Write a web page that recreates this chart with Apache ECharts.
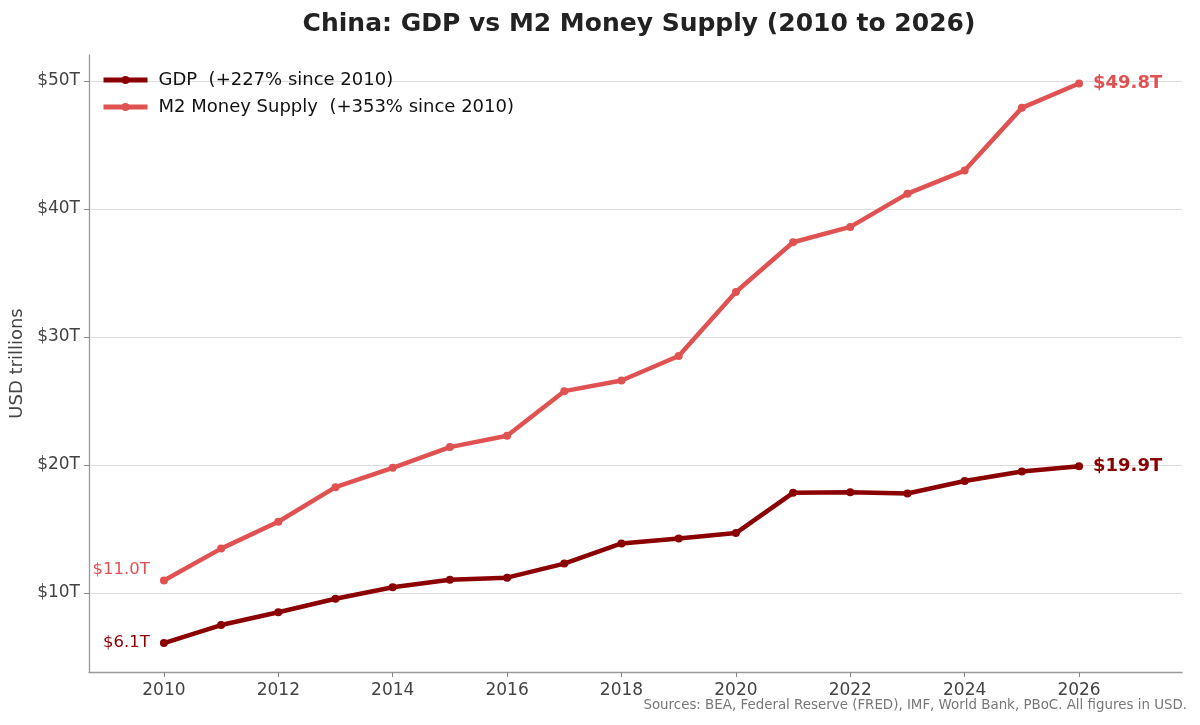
<!DOCTYPE html>
<html>
<head>
<meta charset="utf-8">
<script src="https://cdn.jsdelivr.net/npm/echarts@6/dist/echarts.min.js"></script>
<style>
  html, body { margin: 0; padding: 0; background: #fff; }
  #chart { width: 1200px; height: 725px; }
</style>
</head>
<body>
<div id="chart"></div>
<script>
// years and values (USD trillions)
var years = [2010, 2011, 2012, 2013, 2014, 2015, 2016, 2017, 2018, 2019, 2020, 2021, 2022, 2023, 2024, 2025, 2026];
var gdp = [6.09, 7.5, 8.5, 9.55, 10.45, 11.03, 11.2, 12.3, 13.87, 14.26, 14.68, 17.83, 17.88, 17.78, 18.75, 19.5, 19.9];
var m2 = [10.98, 13.47, 15.57, 18.27, 19.78, 21.4, 22.28, 25.77, 26.6, 28.52, 33.52, 37.4, 38.6, 41.2, 43.0, 47.9, 49.8];
var seriesNames = ['GDP  (+227% since 2010)', 'M2 Money Supply  (+353% since 2010)'];
var xTicks = [2010, 2012, 2014, 2016, 2018, 2020, 2022, 2024, 2026];
var yTicks = [10, 20, 30, 40, 50];

var gdpColor = '#8b0000';
var m2Color = '#e05252';
var fontFamily = 'DejaVu Sans';

// build [x, y] pairs, labelling only the first and last point
function buildData(values, color) {
  var last = values.length - 1;
  return values.map(function (v, i) {
    var item = { value: [years[i], v] };
    if (i === 0) {
      item.label = {
        show: true, position: 'left', distance: 10,
        offset: color === m2Color ? [0, -11] : [0, 0],
        color: color, fontSize: 16.5, fontFamily: fontFamily,
        formatter: '$' + v.toFixed(1) + 'T'
      };
    } else if (i === last) {
      item.label = {
        show: true, position: 'right', distance: 10,
        color: color, fontSize: 18, fontWeight: 'bold', fontFamily: fontFamily,
        formatter: '$' + v.toFixed(1) + 'T'
      };
    }
    return item;
  });
}

var chart = echarts.init(document.getElementById('chart'), null, { renderer: 'canvas' });

chart.setOption({
  animation: false,
  backgroundColor: '#ffffff',
  textStyle: { fontFamily: fontFamily },
  title: {
    text: 'China: GDP vs M2 Money Supply (2010 to 2026)',
    left: 634, top: 7, textAlign: 'center',
    textStyle: { fontSize: 25, fontWeight: 'bold', color: '#222', fontFamily: fontFamily }
  },
  graphic: [{
    type: 'text', right: 13, top: 699,
    style: {
      text: 'Sources: BEA, Federal Reserve (FRED), IMF, World Bank, PBoC. All figures in USD.',
      fill: '#777', fontSize: 13.4, fontFamily: fontFamily
    }
  }],
  legend: {
    orient: 'vertical', left: 96, top: 66,
    itemWidth: 44, itemHeight: 10, itemGap: 9,
    lineStyle: { width: 5 },
    textStyle: { fontSize: 18, color: '#111', fontFamily: fontFamily, padding: [0, 0, 0, 6] },
    data: seriesNames
  },
  grid: { left: 89, right: 18, top: 55, bottom: 53, outerBoundsMode: 'none' },
  xAxis: {
    type: 'value', min: 2008.69, max: 2027.8,
    axisLine: { show: true, lineStyle: { color: '#999', width: 1.3 } },
    axisTick: { show: true, length: 5, lineStyle: { color: '#888' }, customValues: xTicks },
    axisLabel: {
      color: '#444', fontSize: 17, margin: 10, customValues: xTicks, fontFamily: fontFamily,
      formatter: function (v) { return String(v); }
    },
    splitLine: { show: false }
  },
  yAxis: {
    type: 'value', min: 3.83, max: 52.03,
    name: 'USD trillions', nameLocation: 'middle', nameGap: 63, nameRotate: 90,
    nameTextStyle: { color: '#444', fontSize: 18, fontFamily: fontFamily },
    axisLine: { show: true, lineStyle: { color: '#999', width: 1.3 } },
    axisTick: { show: true, length: 5, lineStyle: { color: '#888' }, customValues: yTicks },
    axisLabel: {
      color: '#444', fontSize: 17, margin: 9, customValues: yTicks, fontFamily: fontFamily,
      formatter: function (v) { return '$' + v + 'T'; }
    },
    splitLine: { show: true, lineStyle: { color: '#dddddd', width: 1 } }
  },
  series: [{
    name: seriesNames[0],
    type: 'line', data: buildData(gdp, gdpColor),
    symbol: 'circle', symbolSize: 8, z: 3,
    lineStyle: { color: gdpColor, width: 4.5 },
    itemStyle: { color: gdpColor }
  }, {
    name: seriesNames[1],
    type: 'line', data: buildData(m2, m2Color),
    symbol: 'circle', symbolSize: 8, z: 2,
    lineStyle: { color: m2Color, width: 4.5 },
    itemStyle: { color: m2Color }
  }]
});
</script>
</body>
</html>
